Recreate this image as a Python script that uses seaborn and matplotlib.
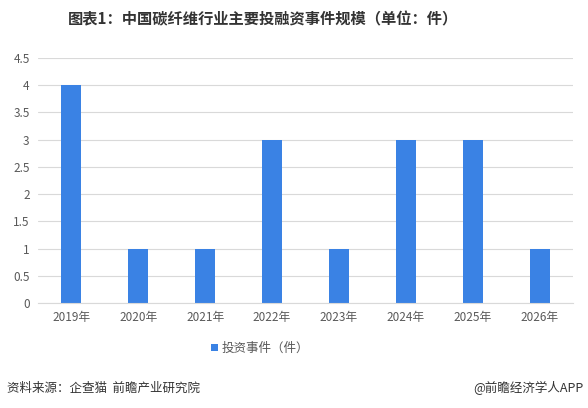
import matplotlib
matplotlib.use("Agg")
import matplotlib.pyplot as plt
import seaborn as sns
import pandas as pd

years = ["2019年", "2020年", "2021年", "2022年", "2023年", "2024年", "2025年", "2026年"]
events = [4, 1, 1, 3, 1, 3, 3, 1]
series_name = "投资事件（件）"
y_ticks = [0, 0.5, 1, 1.5, 2, 2.5, 3, 3.5, 4, 4.5]
y_tick_labels = ["0", "0.5", "1", "1.5", "2", "2.5", "3", "3.5", "4", "4.5"]

sns.set_style("white")
plt.rcParams['font.family'] = ['Noto Sans CJK SC', 'DejaVu Sans']

df = pd.DataFrame({"year": years, "events": events, "series": series_name})

fig = plt.figure(figsize=(5.88, 4.08), dpi=100)
ax = fig.add_axes([0.0646, 0.2574, 0.91, 0.6004])

sns.barplot(data=df, x="year", y="events", hue="series",
            palette=["#3a82e4"], saturation=1, width=0.3, linewidth=0,
            ax=ax, legend=True)

ax.set_ylim(0, 4.5)
ax.set_yticks(y_ticks)
ax.set_yticklabels(y_tick_labels)
ax.grid(axis="y", color="#d9d9d9", linewidth=0.8)
ax.set_axisbelow(True)
for s in ["top", "right", "left"]:
    ax.spines[s].set_visible(False)
ax.spines["bottom"].set_color("#d9d9d9")
ax.tick_params(axis="both", length=0, labelsize=8.5, colors="#595959", pad=6)
ax.set_xlabel("")
ax.set_ylabel("")

ax.legend(loc="center", bbox_to_anchor=(260 / 588, 1 - 348 / 408),
          bbox_transform=fig.transFigure, frameon=False, fontsize=9,
          handlelength=0.5, handleheight=0.5, handletextpad=0.3,
          labelcolor="#595959")

fig.text(263 / 588, 1 - 19 / 408, "图表1：中国碳纤维行业主要投融资事件规模（单位：件）",
         ha="center", va="center", fontsize=11, fontweight="bold", color="#333333")
fig.text(7 / 588, 1 - 388 / 408, "资料来源：企查猫  前瞻产业研究院",
         ha="left", va="center", fontsize=9, color="#333333")
fig.text(583 / 588, 1 - 388 / 408, "@前瞻经济学人APP",
         ha="right", va="center", fontsize=9, color="#333333")

fig.savefig("out.png", dpi=100)
